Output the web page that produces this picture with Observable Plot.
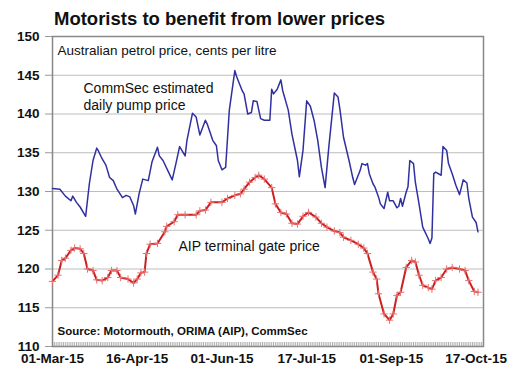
<!DOCTYPE html>
<html><head><meta charset="utf-8">
<script src="https://cdn.jsdelivr.net/npm/d3@7"></script>
<script src="https://cdn.jsdelivr.net/npm/@observablehq/plot@0.6"></script>
<style>
body{margin:0;background:#fff;font-family:"Liberation Sans",Arial,sans-serif;}
#title{font-weight:bold;font-size:18.5px;line-height:20px;padding:9px 0 0 54px;height:19px;color:#111;white-space:nowrap;}
</style></head><body>
<div id="title">Motorists to benefit from lower prices</div>
<div id="chart"></div>
<script>
// CommSec estimated daily pump price (cents per litre)
const pumpDates = ["2015-03-01","2015-03-05","2015-03-08","2015-03-11","2015-03-12","2015-03-14","2015-03-16","2015-03-19","2015-03-21","2015-03-23","2015-03-25","2015-03-26","2015-03-28","2015-03-30","2015-04-01","2015-04-03","2015-04-05","2015-04-08","2015-04-10","2015-04-12","2015-04-14","2015-04-15","2015-04-17","2015-04-19","2015-04-22","2015-04-24","2015-04-27","2015-04-28","2015-04-30","2015-05-03","2015-05-05","2015-05-07","2015-05-09","2015-05-10","2015-05-12","2015-05-13","2015-05-16","2015-05-18","2015-05-20","2015-05-23","2015-05-24","2015-05-27","2015-05-29","2015-05-30","2015-06-01","2015-06-03","2015-06-05","2015-06-08","2015-06-09","2015-06-12","2015-06-13","2015-06-15","2015-06-17","2015-06-18","2015-06-20","2015-06-22","2015-06-24","2015-06-27","2015-06-28","2015-06-29","2015-07-01","2015-07-03","2015-07-04","2015-07-07","2015-07-09","2015-07-12","2015-07-13","2015-07-15","2015-07-17","2015-07-19","2015-07-21","2015-07-23","2015-07-25","2015-07-27","2015-07-29","2015-08-01","2015-08-03","2015-08-04","2015-08-06","2015-08-09","2015-08-11","2015-08-12","2015-08-15","2015-08-16","2015-08-18","2015-08-19","2015-08-20","2015-08-22","2015-08-23","2015-08-25","2015-08-26","2015-08-28","2015-08-30","2015-08-31","2015-09-02","2015-09-04","2015-09-05","2015-09-06","2015-09-07","2015-09-09","2015-09-10","2015-09-11","2015-09-13","2015-09-14","2015-09-16","2015-09-18","2015-09-21","2015-09-22","2015-09-23","2015-09-24","2015-09-25","2015-09-28","2015-09-29","2015-10-01","2015-10-02","2015-10-04","2015-10-06","2015-10-08","2015-10-10","2015-10-12","2015-10-13","2015-10-15","2015-10-17","2015-10-18"];
const pumpValues = [130.4,130.3,129.4,128.8,129.4,128.6,128.0,126.8,131.0,134.0,135.6,135.2,134.2,133.4,131.8,131.4,130.3,129.2,129.5,129.3,128.2,127.1,129.7,131.6,131.4,133.8,135.7,134.6,134.0,132.5,131.5,133.6,135.8,135.4,134.6,136.6,140.1,139.6,137.3,139.2,138.7,136.6,135.9,134.0,132.8,133.1,140.5,145.6,144.8,143.0,142.6,140.0,140.2,141.7,141.6,139.4,139.2,139.2,143.2,142.6,143.2,144.4,143.0,140.5,137.4,134.0,131.9,135.3,141.7,141.0,139.2,136.6,133.1,130.5,135.7,142.7,142.2,140.7,137.0,134.0,131.8,130.9,132.7,133.6,133.4,133.6,132.3,131.0,130.6,129.3,128.4,127.8,129.9,128.8,128.8,127.9,128.1,129.1,128.1,129.9,130.6,134.0,133.6,131.2,128.4,125.4,123.9,123.3,124.0,132.3,132.5,132.1,135.8,135.3,133.6,132.3,130.8,129.6,131.5,131.1,129.1,126.7,126.0,124.8];

// AIP terminal gate price (cents per litre)
const gateDates = ["2015-03-01","2015-03-04","2015-03-06","2015-03-08","2015-03-11","2015-03-13","2015-03-16","2015-03-18","2015-03-20","2015-03-23","2015-03-25","2015-03-28","2015-03-31","2015-04-02","2015-04-05","2015-04-07","2015-04-11","2015-04-14","2015-04-16","2015-04-18","2015-04-20","2015-04-21","2015-04-23","2015-04-27","2015-05-01","2015-05-02","2015-05-06","2015-05-08","2015-05-12","2015-05-18","2015-05-20","2015-05-23","2015-05-26","2015-06-01","2015-06-04","2015-06-08","2015-06-11","2015-06-13","2015-06-16","2015-06-19","2015-06-21","2015-06-24","2015-06-28","2015-06-30","2015-07-03","2015-07-06","2015-07-09","2015-07-12","2015-07-15","2015-07-18","2015-07-22","2015-07-25","2015-07-28","2015-08-01","2015-08-04","2015-08-06","2015-08-10","2015-08-14","2015-08-17","2015-08-19","2015-08-22","2015-08-24","2015-08-25","2015-08-28","2015-08-31","2015-09-02","2015-09-04","2015-09-06","2015-09-09","2015-09-12","2015-09-14","2015-09-16","2015-09-18","2015-09-21","2015-09-23","2015-09-25","2015-09-28","2015-10-01","2015-10-04","2015-10-08","2015-10-11","2015-10-13","2015-10-16","2015-10-18"];
const gateValues = [118.4,119.2,121.1,121.4,122.4,122.7,122.6,122.0,120.0,119.8,118.6,118.5,118.9,119.8,119.8,118.9,118.7,118.2,118.7,119.5,119.6,122.0,123.2,123.3,124.8,125.5,126.1,127.0,127.0,127.0,127.5,127.6,128.6,128.6,129.1,129.5,129.7,130.3,131.2,131.8,132.1,131.6,130.5,128.4,127.3,127.1,125.9,125.8,126.8,127.3,126.7,125.9,125.4,124.9,124.7,124.1,123.7,123.2,122.7,122.0,119.6,118.7,116.8,114.2,113.4,114.2,116.6,117.0,120.2,121.1,120.9,119.2,117.9,117.6,117.4,118.5,118.9,120.0,120.2,120.0,119.8,118.5,117.1,117.0];

const tickDates = ["2015-03-01","2015-04-16","2015-06-01","2015-07-17","2015-09-01","2015-10-17"];
const tickLabels = ["01-Mar-15","16-Apr-15","01-Jun-15","17-Jul-15","01-Sep-15","17-Oct-15"];
const yTicks = [110,115,120,125,130,135,140,145,150];

const parse = d3.utcParse("%Y-%m-%d");
const pump = pumpDates.map((d, i) => ({date: parse(d), value: pumpValues[i]}));
const gate = gateDates.map((d, i) => ({date: parse(d), value: gateValues[i]}));
const xTicks = tickDates.map(parse);
const labelMap = new Map(xTicks.map((d, i) => [+d, tickLabels[i]]));
const xDomain = [parse("2015-03-01"), parse("2015-10-21")];
const dayTicks = d3.utcDay.range(xDomain[0], d3.utcDay.offset(xDomain[1], 1));

const font = "Liberation Sans, Arial, sans-serif";
const plot = Plot.plot({
  width: 516, height: 352,
  marginLeft: 52, marginRight: 33, marginTop: 8, marginBottom: 34,
  style: {fontFamily: font, background: "white", color: "#111", overflow: "visible"},
  x: {type: "utc", domain: xDomain},
  y: {domain: [110, 150]},
  marks: [
    Plot.gridY(yTicks, {stroke: "#bdbdbd", strokeOpacity: 1}),
    Plot.axisY(yTicks, {tickSize: 7, tickPadding: 6, fontSize: 13.5, fontWeight: "bold", stroke: "#999", label: null}),
    Plot.axisX(dayTicks, {tickSize: -4, tickFormat: () => "", stroke: "#9a9a9a", strokeWidth: 0.8, label: null}),
    Plot.axisX(xTicks, {tickSize: 0, tickPadding: 6.5, tickFormat: d => labelMap.get(+d), fontSize: 13.5, fontWeight: "bold", label: null}),
    Plot.frame({stroke: "#888", strokeWidth: 1.5}),
    Plot.line(gate, {x: "date", y: "value", stroke: "#cc1f1f", strokeWidth: 2}),
    Plot.dot(gate, {x: "date", y: "value", symbol: "plus", r: 2.5, stroke: "#e87070", strokeWidth: 1}),
    Plot.line(pump, {x: "date", y: "value", stroke: "#3030a0", strokeWidth: 1.5}),
    Plot.text(["Australian petrol price, cents per litre"], {frameAnchor: "top-left", dx: 5, dy: 8.5, lineAnchor: "top", textAnchor: "start", fontSize: 13.5, fill: "#111"}),
    Plot.text(["CommSec estimated\ndaily pump price"], {frameAnchor: "top-left", dx: 31, dy: 44.5, lineAnchor: "top", textAnchor: "start", fontSize: 14, lineHeight: 1.2, fill: "#111"}),
    Plot.text(["AIP terminal gate price"], {frameAnchor: "top-left", dx: 126, dy: 204.5, lineAnchor: "top", textAnchor: "start", fontSize: 14, fill: "#111"}),
    Plot.text(["Source: Motormouth, ORIMA (AIP), CommSec"], {frameAnchor: "top-left", dx: 5, dy: 290, lineAnchor: "top", textAnchor: "start", fontSize: 11.5, fontWeight: "bold", fill: "#111"})
  ]
});
document.getElementById("chart").appendChild(plot);
</script>
</body></html>
